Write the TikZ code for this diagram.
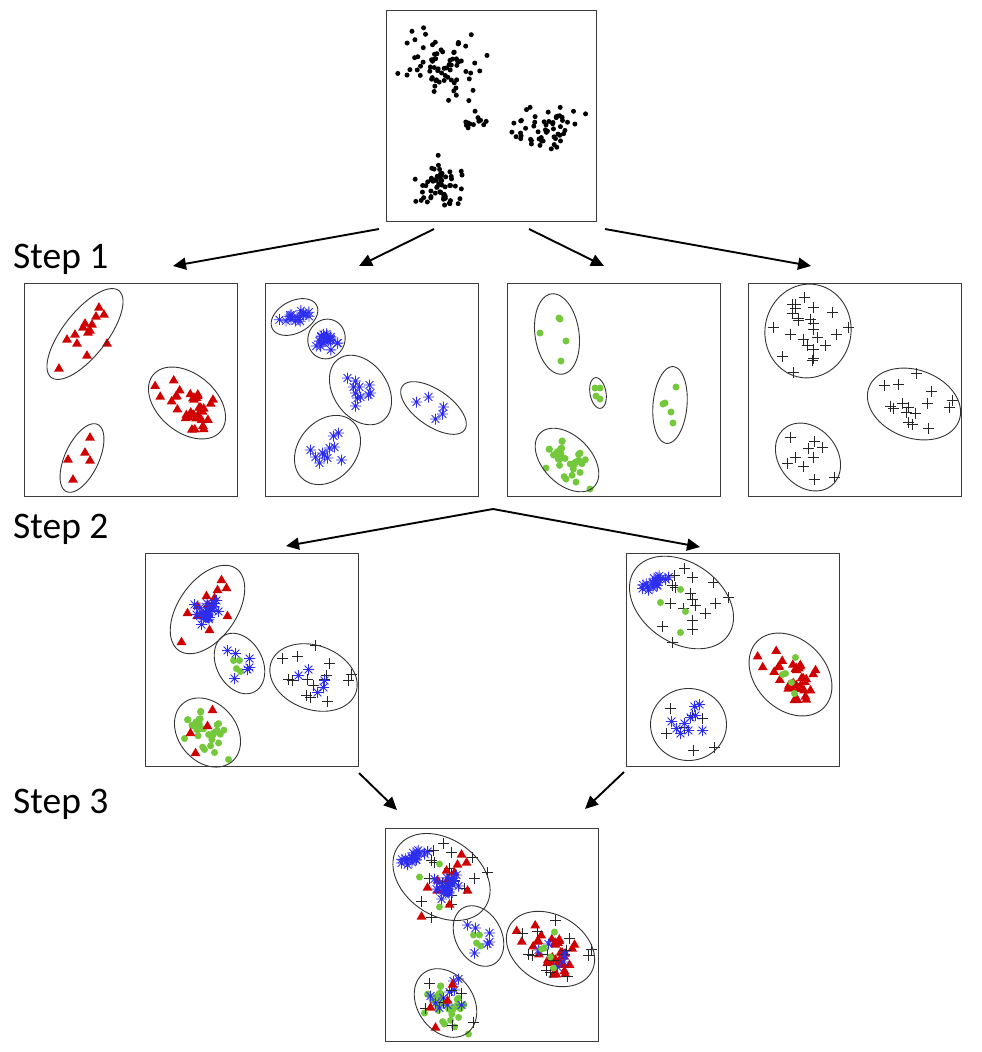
\documentclass[tikz,border=0pt]{standalone}
\usepackage{fontspec}
\setmainfont{Carlito}
\usetikzlibrary{arrows.meta,calc}
\definecolor{redc}{RGB}{208,0,0}
\definecolor{bluec}{RGB}{45,45,240}
\definecolor{greenc}{RGB}{115,200,60}
\definecolor{framec}{RGB}{60,60,60}
\tikzset{
  panel/.style={draw=framec,line width=1pt,minimum width=213pt,minimum height=213pt,inner sep=0pt,outer sep=0pt},
  ellc/.style={draw=black!80,line width=0.9pt},
  arr/.style={line width=1.9pt,-{Triangle[length=13pt,width=12pt]}},
  steplabel/.style={anchor=base west,inner sep=0pt,font=\fontsize{37.5}{40}\selectfont}
}
\newcommand\Mdot[2]{\fill[black] (#1,#2) circle[radius=2.5];}
\newcommand\Mtri[2]{\fill[redc] ({#1-4.9},{#2+3.6}) -- ({#1+4.9},{#2+3.6}) -- ({#1},{#2-4.8}) -- cycle;}
\newcommand\Mast[2]{\draw[bluec,line width=0.85pt] ({#1-5.5},{#2}) -- ({#1+5.5},{#2}) ({#1},{#2-5.5}) -- ({#1},{#2+5.5}) ({#1-3.9},{#2-3.9}) -- ({#1+3.9},{#2+3.9}) ({#1-3.9},{#2+3.9}) -- ({#1+3.9},{#2-3.9});}
\newcommand\Mgrn[2]{\fill[greenc] (#1,#2) circle[radius=3.5];}
\newcommand\Mplus[2]{\draw[black!85,line width=0.9pt] ({#1-5.5},{#2}) -- ({#1+5.5},{#2}) ({#1},{#2-5.5}) -- ({#1},{#2+5.5});}
% random cluster: marker, cx, cy, sa, sb, angle, n, seed
\newcommand\Rcl[8]{%
  \pgfmathsetseed{#8}%
  \foreach \k in {1,...,#7}{%
    \pgfmathsetmacro\uu{#4*(rand+rand+rand)}%
    \pgfmathsetmacro\vv{#5*(rand+rand+rand)}%
    \pgfmathsetmacro\px{#2+\uu*cos(#6)-\vv*sin(#6)}%
    \pgfmathsetmacro\py{#3+\uu*sin(#6)+\vv*cos(#6)}%
    #1{\px}{\py}%
  }}
% ellipse: cx, cy, a, b, angle (positive = down-right)
\newcommand\Ellp[5]{\draw[ellc] plot[domain=0:360,samples=91] ({#1+#3*cos(\x)*cos(#5)-#4*sin(\x)*sin(#5)},{#2+#3*cos(\x)*sin(#5)+#4*sin(\x)*cos(#5)}) -- cycle;}
\newcommand\Pts[2]{\foreach \p/\q in #2 {#1{\p}{\q}}}
% point lists
\def\LaRedEone{75/24,72/33,80/31,61/40,68/41,59/44,64/49,66/47,51/51,43/56,53/60,83/60,63/72,35/85}
\def\LaRedEthree{66/154,61/169,66/177,44/176,49/196}
\def\LbBlueEthree{82/95,90/98,104/102,88/104,94/104,90/110,95/114,103/112,105/110,90/123,92/115}
\def\LbBlueEfour{151/119,163/114,178/124,177/131,170/136}
\def\LbBlueEfive{68/153,73/150,69/164,64/165,45/167,57/170,50/174,62/175,54/180,76/177,59/172}
\def\LcGrnEone{52/35,53/36,33/50,59/58,54/78}
\def\LcGrnEtwo{88/105,93/105,89/113,93/116}
\def\LcGrnEthree{169/104,156/121,158/120,164/129,166/140}
\def\LcGrnEfour{39/185,83/206,59/196,69/199}
\def\LdPlusEone{56/14,44/21,47/21,65/24,84/29,44/30,50/35,62/36,65/40,25/44,65/46,100/44,42/51,88/51,55/56,69/54,59/62,77/62,65/66,34/73,65/75,64/77,45/89,47/25,50/37}
\def\LdPlusEtwo{168/90,136/102,150/101,183/108,179/120,142/123,145/125,154/120,160/124,167/130,160/139,164/141,180/145,201/124,204/117,158/129}
\def\LdPlusEthree{42/154,66/158,60/165,74/164,47/174,65/174,39/180,55/183,66/196,86/194}
\def\LeRedEone{76/26,81/34,72/36,61/42,69/44,62/51,42/59,52/62,82/62,64/76,36/88,52/52,66/52}
\def\LeBlueEone{49/51,71/47,73/58,56/71}
\def\LeBlueEtwo{82/97,90/100,104/105,104/114,102/116,89/125}
\def\LeGrnEtwo{88/107,94/107,91/115,95/118}
\def\LePlusEthree{170/92,137/105,152/103,184/110,181/122,143/126,147/127,162/126,168/132,161/142,165/144,182/148,203/127,206/121,179/126}
\def\LeBlueEthree{153/122,163/116,179/127,178/134,172/139}
\def\LeRedEfour{67/156,45/179,50/199,62/172}
\def\LfPlusEone{58/15,48/22,46/32,66/24,87/29,44/50,64/40,66/46,57/55,69/52,79/60,66/67,36/73,66/76,46/89,89/50,102/44,49/34}
\def\LfGrnEone{54/36,34/49,59/58,54/79}
\def\LfGrnEtwo{169/104,156/121,159/120,165/129,168/140}
\def\LfBlueEthree{73/151,68/153,69/162,64/164,45/168,58/170,50/175,62/177,54/180,76/177}
\def\LfPlusEthree{44/155,76/165,58/174,40/180,67/197,88/194,66/162}
\begin{document}
\begin{tikzpicture}[x=1pt,y=-1pt]
\useasboundingbox (0,0) rectangle (982,1052);
% panels
\node[panel,minimum width=210pt,minimum height=211pt] (p0) at (491,115.5) {};
\node[panel] (p1) at (130.5,389.5) {};
\node[panel] (p2) at (372,389.5) {};
\node[panel] (p3) at (613.5,389.5) {};
\node[panel] (p4) at (854.5,389.5) {};
\node[panel] (p5) at (252,660) {};
\node[panel] (p6) at (733,660) {};
\node[panel] (p7) at (492,934.5) {};
% labels
\node[steplabel] (l1) at (13,268) {Step 1};
\node[steplabel] (l2) at (13,538) {Step 2};
\node[steplabel] (l3) at (13,813) {Step 3};
% top panel
\begin{scope}[shift={(p0.north west)}]
\Rcl{\Mdot}{56}{55}{18}{15}{20}{75}{101}
\Rcl{\Mdot}{91}{108}{7}{6}{0}{12}{102}
\Rcl{\Mdot}{161}{121}{15}{11}{20}{55}{103}
\Rcl{\Mdot}{55}{175}{11}{12}{0}{60}{104}
\end{scope}
% panel 1 (red)
\begin{scope}[shift={(p1.north west)}]
\Pts{\Mtri}{\LaRedEone}
\Rcl{\Mtri}{163}{119}{15}{10}{40}{34}{11}
\Pts{\Mtri}{\LaRedEthree}
\Ellp{61}{51}{55}{22}{-52}
\Ellp{163}{120}{44}{29}{40}
\Ellp{58}{175}{37}{17}{-65}
\end{scope}
% panel 2 (blue)
\begin{scope}[shift={(p2.north west)}]
\Rcl{\Mast}{29}{35}{7}{3.5}{-28}{16}{21}
\Rcl{\Mast}{62}{57}{5}{4.5}{0}{20}{22}
\Pts{\Mast}{\LbBlueEthree}
\Pts{\Mast}{\LbBlueEfour}
\Pts{\Mast}{\LbBlueEfive}
\Ellp{29}{34}{25}{16}{-28}
\Ellp{61}{56}{20}{18.5}{-70}
\Ellp{95}{107}{38}{27}{55}
\Ellp{168}{125}{38}{18}{35}
\Ellp{62}{167}{38}{29}{-50}
\end{scope}
% panel 3 (green)
\begin{scope}[shift={(p3.north west)}]
\Pts{\Mgrn}{\LcGrnEone}
\Pts{\Mgrn}{\LcGrnEtwo}
\Pts{\Mgrn}{\LcGrnEthree}
\Rcl{\Mgrn}{60}{175}{12}{7.5}{40}{34}{31}
\Pts{\Mgrn}{\LcGrnEfour}
\Ellp{50}{51}{40.5}{22}{82}
\Ellp{91}{110}{15.5}{8}{80}
\Ellp{163}{122}{38.5}{17}{-85}
\Ellp{60}{177}{38}{24}{45}
\end{scope}
% panel 4 (plus)
\begin{scope}[shift={(p4.north west)}]
\Pts{\Mplus}{\LdPlusEone}
\Pts{\Mplus}{\LdPlusEtwo}
\Pts{\Mplus}{\LdPlusEthree}
\Ellp{60}{48}{47}{43}{-80}
\Ellp{166}{121}{48}{34}{20}
\Ellp{60}{174}{37}{29}{50}
\end{scope}
% panel 5
\begin{scope}[shift={(p5.north west)}]
\Pts{\Mtri}{\LeRedEone}
\Rcl{\Mast}{62}{59}{5}{5}{0}{22}{51}
\Pts{\Mast}{\LeBlueEone}
\Pts{\Mgrn}{\LeGrnEtwo}
\Pts{\Mast}{\LeBlueEtwo}
\Pts{\Mplus}{\LePlusEthree}
\Pts{\Mast}{\LeBlueEthree}
\Rcl{\Mgrn}{60}{175}{12}{7.5}{40}{34}{31}
\Pts{\Mgrn}{\LcGrnEfour}
\Pts{\Mtri}{\LeRedEfour}
\Ellp{62}{56}{50}{29}{-55}
\Ellp{94}{110}{32}{23}{62}
\Ellp{168}{124}{45}{32}{20}
\Ellp{62}{179}{38}{29}{50}
\end{scope}
% panel 6
\begin{scope}[shift={(p6.north west)}]
\Rcl{\Mast}{27}{30}{8}{3}{-22}{20}{61}
\Pts{\Mplus}{\LfPlusEone}
\Pts{\Mgrn}{\LfGrnEone}
\Rcl{\Mtri}{163}{119}{15}{10}{40}{34}{11}
\Pts{\Mgrn}{\LfGrnEtwo}
\Pts{\Mplus}{\LfPlusEthree}
\Pts{\Mast}{\LfBlueEthree}
\Ellp{55}{49}{57}{40}{35}
\Ellp{164}{121}{47}{35}{45}
\Ellp{62}{171}{38}{36}{0}
\end{scope}
% panel 7
\begin{scope}[shift={(p7.north west)}]
\Rcl{\Mast}{27}{30}{8}{3}{-22}{20}{61}
\Pts{\Mplus}{\LfPlusEone}
\Pts{\Mgrn}{\LfGrnEone}
\Pts{\Mtri}{\LeRedEone}
\Rcl{\Mast}{62}{59}{5}{5}{0}{22}{51}
\Pts{\Mast}{\LeBlueEone}
\Pts{\Mgrn}{\LeGrnEtwo}
\Pts{\Mast}{\LeBlueEtwo}
\Rcl{\Mtri}{163}{119}{15}{10}{40}{34}{11}
\Pts{\Mplus}{\LePlusEthree}
\Pts{\Mast}{\LeBlueEthree}
\Pts{\Mgrn}{\LfGrnEtwo}
\Rcl{\Mgrn}{60}{175}{12}{7.5}{40}{34}{31}
\Pts{\Mgrn}{\LcGrnEfour}
\Pts{\Mast}{\LfBlueEthree}
\Pts{\Mplus}{\LfPlusEthree}
\Pts{\Mtri}{\LeRedEfour}
\Ellp{56}{49}{53}{38}{35}
\Ellp{93}{108}{32}{23}{62}
\Ellp{165}{121}{47}{34}{30}
\Ellp{60}{175}{37}{28}{55}
\end{scope}
% arrows
\coordinate (s1) at (379,229); \coordinate (t1) at (173,266);
\coordinate (s2) at (434,229); \coordinate (t2) at (359,266);
\coordinate (s3) at (529,229); \coordinate (t3) at (604,266);
\coordinate (s4) at (605,229); \coordinate (t4) at (811,266);
\coordinate (ap) at (493,509); \coordinate (t5) at (286,546); \coordinate (t6) at (700,547);
\coordinate (s7) at (359,773); \coordinate (t7) at (397,810);
\coordinate (s8) at (624,772); \coordinate (t8) at (585,809);
\draw[arr] (s1) -- (t1);
\draw[arr] (s2) -- (t2);
\draw[arr] (s3) -- (t3);
\draw[arr] (s4) -- (t4);
\draw[arr] (ap) -- (t5);
\draw[arr] (ap) -- (t6);
\draw[arr] (s7) -- (t7);
\draw[arr] (s8) -- (t8);
\end{tikzpicture}
\end{document}
